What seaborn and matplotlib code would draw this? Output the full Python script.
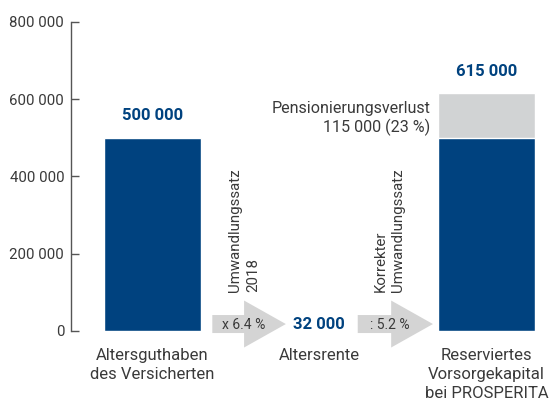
import numpy as np
import pandas as pd
import matplotlib
matplotlib.use('Agg')
import matplotlib.pyplot as plt
import seaborn as sns
from matplotlib.patches import FancyArrow
from matplotlib.ticker import FuncFormatter

# Data
categories = ['Altersguthaben\ndes Versicherten', 'Altersrente',
              'Reserviertes\nVorsorgekapital\nbei PROSPERITA']
capital = [500000, 0, 500000]        # blue part
loss = [0, 0, 115000]                # grey part (Pensionierungsverlust)
totals = [500000, 32000, 615000]     # labels on top
total_labels = ['500 000', '32 000', '615 000']
rate_labels = ['x 6.4 %', ': 5.2 %']
rate_titles = ['Umwandlungssatz\n2018', 'Korrekter\nUmwandlungssatz']
loss_label = 'Pensionierungsverlust\n115 000 (23 %)'
yticks = [0, 200000, 400000, 600000, 800000]

blue = '#00427f'
light = '#d1d3d4'
arrow_grey = '#d4d4d4'
txt = '#3a3a3a'

sns.set_style('white')
plt.rcParams['font.family'] = ['Roboto', 'DejaVu Sans']

df = pd.DataFrame({'cat': categories,
                   'capital': capital,
                   'total': [c + l for c, l in zip(capital, loss)]})

fig = plt.figure(figsize=(5.51, 4.01), dpi=100)
ax = fig.add_axes([0.129, 0.1746, 0.86, 0.7706])

sns.barplot(data=df, x='cat', y='total', color=light, width=0.58,
            saturation=1, ax=ax)
sns.barplot(data=df, x='cat', y='capital', color=blue, width=0.58,
            saturation=1, ax=ax)

ax.set_ylim(0, 800000)
ax.set_xlim(-0.485, 2.35)
ax.set_xlabel('')
ax.set_ylabel('')

# value labels
for i, (v, lab) in enumerate(zip(totals, total_labels)):
    if i == 1:
        ax.text(i, 15500, lab, ha='center', va='center', color=blue,
                fontsize=12, fontweight='bold')
    else:
        ax.text(i, v + 57000, lab, ha='center', va='center', color=blue,
                fontsize=12, fontweight='bold')

# arrows between the steps
arrow_x = [(0.36, 0.80), (1.23, 1.68)]
for (x0, x1), lab, title in zip(arrow_x, rate_labels, rate_titles):
    ar = FancyArrow(x0, 18000, x1 - x0, 0, width=46600, head_width=121600,
                    head_length=0.25, length_includes_head=True,
                    color=arrow_grey, lw=0, clip_on=False)
    ax.add_patch(ar)
    cx = x0 + 0.19
    ax.text(cx, 15500, lab, ha='center', va='center', color=txt,
            fontsize=10)
    ax.text(cx, 101000, title, ha='center', va='bottom', rotation=90,
            multialignment='left', color=txt, fontsize=10.8,
            linespacing=1.35)

ax.text(2 - 0.335, 550000, loss_label, ha='right', va='center',
        color=txt, fontsize=11.6, multialignment='right', linespacing=1.25)

# axes styling
sns.despine(ax=ax, bottom=True, right=True, top=True)
ax.spines['left'].set_color('#555555')
ax.spines['left'].set_linewidth(1)
ax.set_yticks(yticks)
ax.yaxis.set_major_formatter(FuncFormatter(lambda v, p: f'{int(v):,}'.replace(',', ' ')))
ax.tick_params(axis='y', direction='in', length=6, width=1, color='#555555',
               pad=5, labelsize=10.8, labelcolor=txt, left=True)
ax.tick_params(axis='x', length=0, pad=12, labelsize=12, labelcolor=txt)
for t in ax.get_xticklabels():
    t.set_linespacing(1.35)

fig.savefig('out.png', dpi=100)
